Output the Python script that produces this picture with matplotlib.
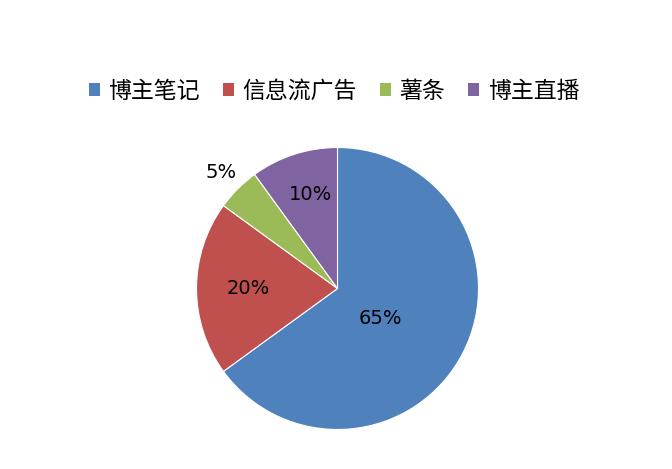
import numpy as np
import matplotlib
matplotlib.use("Agg")
import matplotlib.pyplot as plt
from matplotlib.patches import Patch

plt.rcParams['font.family'] = ['Noto Sans CJK SC', 'DejaVu Sans']

categories = ['博主笔记', '信息流广告', '薯条', '博主直播']
values = [65, 20, 5, 10]
colors = ['#4F81BD', '#C0504D', '#9BBB59', '#8064A2']
# label placement: (radial fraction, angle offset in degrees)
label_place = [(0.37, -8), (0.635, 0), (1.165, 0), (0.695, -2)]

W, H = 672, 469
fig = plt.figure(figsize=(W / 100, H / 100), dpi=100)
cx, cy, r = 337.5, 288.5, 141
ax = fig.add_axes([(cx - r) / W, (H - cy - r) / H, 2 * r / W, 2 * r / H])

wedges, _ = ax.pie(values, colors=colors, startangle=90, counterclock=False,
                   radius=1.0, wedgeprops=dict(edgecolor='white', linewidth=0.8))
ax.set_xlim(-1, 1)
ax.set_ylim(-1, 1)
ax.set_aspect('equal')
ax.axis('off')

for w, v, (d, off) in zip(wedges, values, label_place):
    ang = np.deg2rad((w.theta1 + w.theta2) / 2 + off)
    ax.text(d * np.cos(ang), d * np.sin(ang), f'{v}%', ha='center', va='center',
            fontsize=14, family=['DejaVu Sans'], color='black')

handles = [Patch(facecolor=c, edgecolor='none') for c in colors]
fig.legend(handles, categories, loc='center', bbox_to_anchor=(334 / W, 1 - 91 / H),
           ncol=4, frameon=False, fontsize=16.5, handlelength=0.48, handleheight=0.48,
           handletextpad=0.38, columnspacing=1.0)

fig.savefig('out.png', dpi=100, facecolor='white')
